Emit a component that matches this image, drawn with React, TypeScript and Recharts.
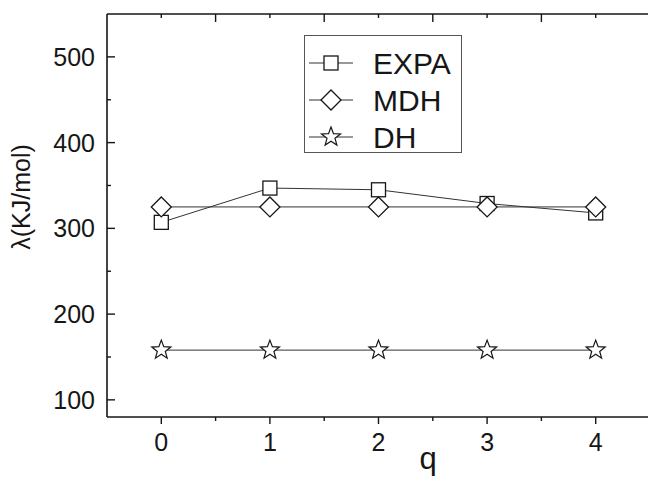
import { LineChart, Line, XAxis, YAxis, Legend } from "recharts"

const qValues = [0, 1, 2, 3, 4]
const expaValues = [307, 347, 345, 329, 318]
const mdhValues = [325, 325, 325, 325, 325]
const dhValues = [158, 158, 158, 158, 158]

const bottomTicks = [0, 0.5, 1, 1.5, 2, 2.5, 3, 3.5, 4]
const leftTicks = [100, 150, 200, 250, 300, 350, 400, 450, 500]
const rightTicks = [0.5, 1, 1.5, 2, 2.5, 3, 3.5, 4, 4.5]

const INK = "#161616"
const LINE = "#333"
const FONT = "'Liberation Sans', Arial, sans-serif"

const data = qValues.map((q, i) => ({
  q,
  EXPA: expaValues[i],
  MDH: mdhValues[i],
  DH: dhValues[i],
}))

type Shape = "square" | "diamond" | "star"

const series: { key: string; shape: Shape }[] = [
  { key: "EXPA", shape: "square" },
  { key: "MDH", shape: "diamond" },
  { key: "DH", shape: "star" },
]

function starPoints(cx: number, cy: number, ro: number, ri: number) {
  const pts: string[] = []
  for (let i = 0; i < 10; i++) {
    const r = i % 2 === 0 ? ro : ri
    const a = -Math.PI / 2 + (i * Math.PI) / 5
    pts.push(`${cx + r * Math.cos(a)},${cy + r * Math.sin(a)}`)
  }
  return pts.join(" ")
}

function Marker({ cx, cy, shape }: { cx: number; cy: number; shape: Shape }) {
  if (shape === "square") {
    const s = 7
    return <rect x={cx - s} y={cy - s} width={s * 2} height={s * 2} fill="#fff" stroke={INK} strokeWidth={1.3} />
  }
  if (shape === "diamond") {
    const r = 10
    return (
      <polygon
        points={`${cx},${cy - r} ${cx + r},${cy} ${cx},${cy + r} ${cx - r},${cy}`}
        fill="#fff"
        stroke={INK}
        strokeWidth={1.3}
      />
    )
  }
  return <polygon points={starPoints(cx, cy, 10, 4.2)} fill="#fff" stroke={INK} strokeWidth={1.2} />
}

const LeftTick = (props: any) => {
  const { x, y, payload } = props
  const major = payload.value % 100 === 0
  return (
    <g>
      <line x1={x} x2={x + (major ? 8 : 4)} y1={y} y2={y} stroke={INK} strokeWidth={1.4} />
      {major && (
        <text x={x - 12} y={y + 9} textAnchor="end" fontSize={25} fill={INK} fontFamily={FONT}>
          {payload.value}
        </text>
      )}
    </g>
  )
}

const BottomTick = (props: any) => {
  const { x, y, payload } = props
  const major = Number.isInteger(payload.value)
  return (
    <g>
      <line x1={x} x2={x} y1={y} y2={y + (major ? 7 : 4)} stroke={INK} strokeWidth={1.4} />
      {major && (
        <text x={x} y={y + 34} textAnchor="middle" fontSize={25} fill={INK} fontFamily={FONT}>
          {payload.value}
        </text>
      )}
    </g>
  )
}

const TopTick = (props: any) => {
  const { x, y, payload } = props
  const half = !Number.isInteger(payload.value)
  return <line x1={x} x2={x} y1={y} y2={y + (half ? 8 : 4)} stroke={INK} strokeWidth={1.4} />
}

const RightTick = (props: any) => {
  const { x, y, payload } = props
  const major = Number.isInteger(payload.value)
  return <line x1={x} x2={x - (major ? 7 : 3)} y1={y} y2={y} stroke={INK} strokeWidth={1.4} />
}

const renderLegend = () => (
  <div style={{ width: 158, height: 118, border: "1px solid #555", boxSizing: "border-box", background: "#fff" }}>
    <svg width={156} height={116} style={{ overflow: "visible" }}>
      {series.map((s, i) => {
        const cy = 27 + i * 37
        return (
          <g key={s.key}>
            <line x1={4} x2={48} y1={cy} y2={cy} stroke={LINE} strokeWidth={1} />
            <Marker cx={26} cy={cy} shape={s.shape} />
            <text x={68} y={cy + 11} fontSize={30} fill={INK} fontFamily={FONT}>
              {s.key}
            </text>
          </g>
        )
      })}
    </svg>
  </div>
)

export default function App() {
  return (
    <div style={{ position: "fixed", left: 0, top: 0, width: 648, height: 478, overflow: "hidden", background: "#fff" }}>
      <LineChart width={700} height={478} data={data} margin={{ top: 13, right: 49, left: 106, bottom: 60 }}>
        <XAxis
          dataKey="q"
          type="number"
          domain={[-0.5, 4.5]}
          ticks={bottomTicks}
          height={1}
          tickSize={0}
          tickMargin={0}
          tickLine={false}
          tick={BottomTick}
          axisLine={{ stroke: INK, strokeWidth: 1.6 }}
          interval={0}
          label={{
            content: () => (
              <text x={428} y={469} textAnchor="middle" fontSize={31} fill={INK} fontFamily={FONT}>
                q
              </text>
            ),
          }}
        />
        <XAxis
          xAxisId="top"
          orientation="top"
          dataKey="q"
          type="number"
          domain={[-0.5, 4.5]}
          ticks={bottomTicks}
          height={1}
          tickSize={0}
          tickMargin={0}
          tickLine={false}
          tick={TopTick}
          axisLine={{ stroke: INK, strokeWidth: 1.6 }}
          interval={0}
        />
        <YAxis
          type="number"
          domain={[80, 550]}
          ticks={leftTicks}
          width={1}
          tickSize={0}
          tickMargin={0}
          tickLine={false}
          tick={LeftTick}
          axisLine={{ stroke: INK, strokeWidth: 1.6 }}
          interval={0}
          label={{
            content: () => (
              <text
                x={30}
                y={197}
                transform="rotate(-90 30 197)"
                textAnchor="middle"
                fontSize={25}
                fill={INK}
                fontFamily={FONT}
              >
                λ(KJ/mol)
              </text>
            ),
          }}
        />
        <YAxis
          yAxisId="right"
          orientation="right"
          type="number"
          domain={[0, 5]}
          ticks={rightTicks}
          width={1}
          tickSize={0}
          tickMargin={0}
          tickLine={false}
          tick={RightTick}
          axisLine={{ stroke: INK, strokeWidth: 1.6 }}
          interval={0}
        />
        <Legend
          layout="vertical"
          align="center"
          verticalAlign="middle"
          content={renderLegend}
          wrapperStyle={{ left: 304, top: 35, width: 158, height: 118 }}
        />
        {series.map((s) => (
          <Line
            key={s.key}
            dataKey={s.key}
            type="linear"
            stroke={LINE}
            strokeWidth={1}
            isAnimationActive={false}
            dot={(p: any) => <Marker key={`${s.key}-${p.index}`} cx={p.cx} cy={p.cy} shape={s.shape} />}
            activeDot={false}
          />
        ))}
      </LineChart>
    </div>
  )
}
